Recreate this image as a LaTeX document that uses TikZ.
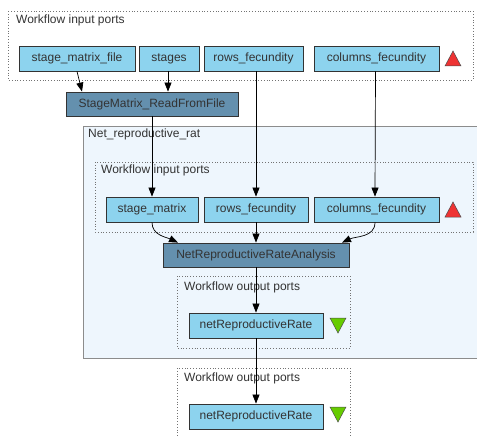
\documentclass[tikz,border=0pt]{standalone}
\usepackage{fontspec}
\setmainfont{Liberation Sans}
\usetikzlibrary{arrows.meta,calc}
\definecolor{portblue}{HTML}{8DD3EE}
\definecolor{procblue}{HTML}{6490AE}
\definecolor{netfill}{HTML}{EEF6FD}
\definecolor{txt}{HTML}{333333}
\definecolor{trired}{HTML}{EE3333}
\definecolor{trigreen}{HTML}{66CC00}
\tikzset{
  port/.style={draw=black!80, line width=0.8pt, fill=portblue, minimum height=25pt, inner sep=0pt, text=txt, font=\fontsize{12}{14}\selectfont},
  proc/.style={draw=black!80, line width=0.8pt, fill=procblue, minimum height=24pt, inner sep=0pt, text=txt, font=\fontsize{12}{14}\selectfont},
  grp/.style={draw=black!55, line width=0.8pt, dotted},
  lbl/.style={anchor=west, inner sep=0pt, text=txt, font=\fontsize{12}{14}\selectfont},
  arr/.style={-{Triangle[length=9pt,width=7pt]}, line width=0.7pt},
  redtri/.style={fill=trired, draw=black!70, line width=0.5pt},
  greentri/.style={fill=trigreen, draw=black!70, line width=0.5pt}
}
\begin{document}
\begin{tikzpicture}[x=1pt,y=-1pt]
\useasboundingbox (0,0) rectangle (477,436);
% groups
\draw[grp] (8,11) rectangle (473,80);
\node[lbl] (l1) at (16,20) {Workflow input ports};
\draw[draw=black!45, line width=0.8pt, fill=netfill] (83,126) rectangle (480,358);
\node[lbl] (l2) at (88,134) {Net\_reproductive\_rat};
\draw[grp] (95,162) rectangle (473,232);
\node[lbl] (l3) at (101,170) {Workflow input ports};
\draw[grp] (177,276) rectangle (350,348);
\node[lbl] (l4) at (184,287) {Workflow output ports};
\draw[grp] (177,368) rectangle (350,440);
\node[lbl] (l5) at (184,378) {Workflow output ports};
% nodes
\node[port, minimum width=116pt] (smf) at (77,58.5) {stage\_matrix\_file};
\node[port, minimum width=60pt] (stg) at (169,58.5) {stages};
\node[port, minimum width=99pt] (rf) at (253.5,58.5) {rows\_fecundity};
\node[port, minimum width=125pt] (cf) at (376.5,58.5) {columns\_fecundity};
\node[proc, minimum width=172pt] (smr) at (152,104) {StageMatrix\_ReadFromFile};
\node[port, minimum width=92pt] (sm) at (152,209.5) {stage\_matrix};
\node[port, minimum width=104pt] (rf2) at (256,209.5) {rows\_fecundity};
\node[port, minimum width=125pt] (cf2) at (376.5,209.5) {columns\_fecundity};
\node[proc, minimum width=186pt] (nrra) at (256,255) {NetReproductiveRateAnalysis};
\node[port, minimum width=134pt] (o1) at (256,325.5) {netReproductiveRate};
\node[port, minimum width=134pt] (o2) at (256,416.5) {netReproductiveRate};
% triangles
\draw[redtri] (445,66) -- (461,66) -- (453,51) -- cycle;
\draw[redtri] (445,217) -- (461,217) -- (453,202) -- cycle;
\draw[greentri] (330,318) -- (346,318) -- (338,333) -- cycle;
\draw[greentri] (330,407) -- (346,407) -- (338,422) -- cycle;
% connectors
\draw[arr] ([xshift=0pt]smf.south) -- ([xshift=-70pt]smr.north);
\draw[arr] ([xshift=-1pt]stg.south) -- ([xshift=16pt]smr.north);
\draw[arr] (smr.south) -- (sm.north);
\draw[arr] (rf.south -| rf2.north) -- (rf2.north);
\draw[arr] ([xshift=-1pt]cf.south) -- ([xshift=-1.5pt]cf2.north);
\draw[arr] (sm.south) to[out=-90,in=155] ([xshift=-78pt]nrra.north);
\draw[arr] (rf2.south) -- (nrra.north);
\draw[arr] ([xshift=-1.5pt]cf2.south) to[out=-90,in=25] ([xshift=86pt]nrra.north);
\draw[arr] (nrra.south) -- (o1.north);
\draw[arr] (o1.south) -- (o2.north);
\end{tikzpicture}
\end{document}
